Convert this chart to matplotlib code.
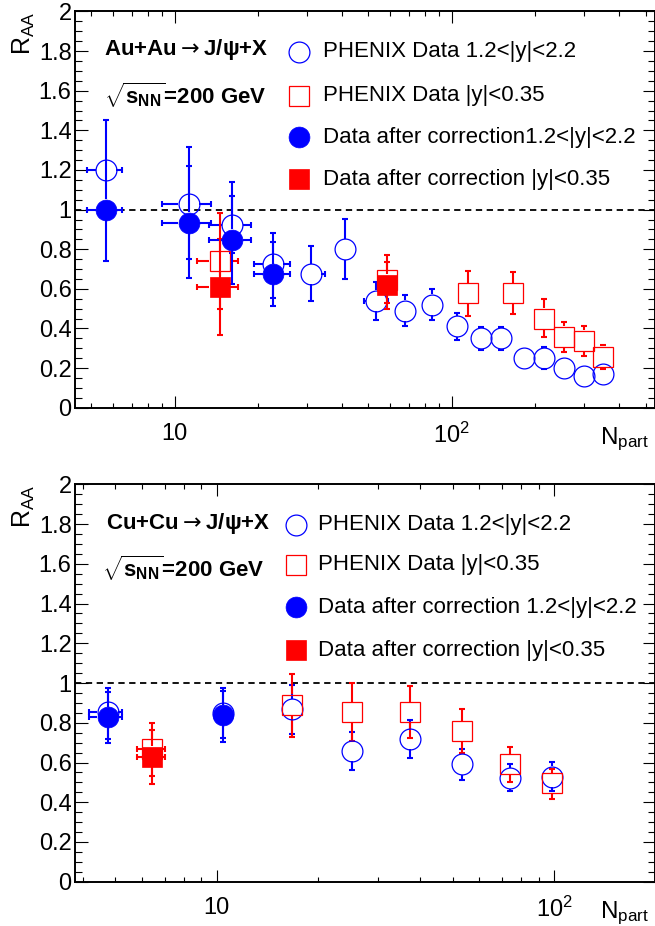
import numpy as np
import matplotlib
matplotlib.use("Agg")
from matplotlib import pyplot as plt
from matplotlib.ticker import LogLocator, MultipleLocator, NullFormatter

plt.rcParams['font.family'] = ['Liberation Sans', 'DejaVu Sans']
plt.rcParams['mathtext.fontset'] = 'custom'
plt.rcParams['mathtext.rm'] = 'Liberation Sans'
plt.rcParams['mathtext.it'] = 'Liberation Sans:italic'
plt.rcParams['mathtext.bf'] = 'Liberation Sans:bold'

nan = np.nan

# ---- Au+Au, PHENIX 1.2<|y|<2.2 (open circles)
au_fwd_npart = [5.64, 11.2, 16.1, 22.6, 30.9, 41.1, 53.2, 67.6, 84.7, 104, 127, 151, 182, 215, 254, 300, 350]
au_fwd_raa = [1.20, 1.03, 0.92, 0.725, 0.675, 0.80, 0.54, 0.49, 0.52, 0.41, 0.35, 0.35, 0.25, 0.25, 0.20, 0.158, 0.17]
au_fwd_lo = [1.15, 0.75, 0.78, 0.556, 0.537, 0.651, 0.443, 0.412, 0.443, 0.342, 0.29, 0.29, 0.21, 0.193, 0.16, 0.12, 0.13]
au_fwd_hi = [1.25, 1.22, 1.07, 0.838, 0.818, 0.951, 0.636, 0.571, 0.60, 0.478, 0.405, 0.405, 0.29, 0.305, 0.24, 0.19, 0.21]
au_fwd_xlo = [4.82, 9.0, 13.3, 19.3, 28.4, 37.9, 48.2, nan, nan, nan, nan, nan, nan, nan, nan, nan, nan]
au_fwd_xhi = [6.44, 13.5, 18.8, 26.0, 34.8, 44.7, 58.7, nan, nan, nan, nan, nan, nan, nan, nan, nan, nan]

# ---- Au+Au, PHENIX |y|<0.35 (open squares)
au_mid_npart = [14.5, 58.4, 114, 166, 215, 254, 300, 350]
au_mid_raa = [0.739, 0.645, 0.577, 0.577, 0.449, 0.359, 0.338, 0.258]
au_mid_lo = [0.498, 0.527, 0.465, 0.471, 0.355, 0.279, 0.263, 0.195]
au_mid_hi = [0.852, 0.737, 0.692, 0.683, 0.547, 0.434, 0.414, 0.318]
au_mid_xlo = [12.0, nan, nan, nan, nan, nan, nan, nan]
au_mid_xhi = [16.9, nan, nan, nan, nan, nan, nan, nan]

# ---- Au+Au, corrected 1.2<|y|<2.2 (filled circles)
au_fwd_c_npart = [5.64, 11.2, 16.1, 22.6]
au_fwd_c_raa = [1.0, 0.934, 0.848, 0.675]
au_fwd_c_lo = [0.742, 0.653, 0.625, 0.512]
au_fwd_c_hi = [1.45, 1.315, 1.138, 0.88]
au_fwd_c_xlo = [4.82, 9.0, 13.3, 19.3]
au_fwd_c_xhi = [6.44, 13.5, 18.8, 26.0]

# ---- Au+Au, corrected |y|<0.35 (filled squares)
au_mid_c_npart = [14.5, 58.4]
au_mid_c_raa = [0.611, 0.62]
au_mid_c_lo = [0.369, 0.497]
au_mid_c_hi = [0.981, 0.77]
au_mid_c_xlo = [12.0, nan]
au_mid_c_xhi = [16.9, nan]

# ---- Cu+Cu, PHENIX 1.2<|y|<2.2
cu_fwd_npart = [4.75, 10.46, 16.76, 25.2, 37.4, 53.2, 74.1, 98.6]
cu_fwd_raa = [0.853, 0.85, 0.868, 0.658, 0.718, 0.592, 0.52, 0.528]
cu_fwd_lo = [0.72, 0.725, 0.742, 0.562, 0.624, 0.513, 0.455, 0.458]
cu_fwd_hi = [0.955, 0.958, 0.99, 0.753, 0.815, 0.67, 0.591, 0.601]
cu_fwd_xlo = [4.19, nan, nan, nan, nan, nan, nan, nan]
cu_fwd_xhi = [5.25, nan, nan, nan, nan, nan, nan, nan]

# ---- Cu+Cu, PHENIX |y|<0.35
cu_mid_npart = [6.43, 16.76, 25.2, 37.4, 53.2, 74.1, 98.6]
cu_mid_raa = [0.669, 0.891, 0.854, 0.854, 0.758, 0.591, 0.495]
cu_mid_lo = [0.533, 0.728, 0.71, 0.725, 0.646, 0.503, 0.416]
cu_mid_hi = [0.765, 1.047, 1.0, 0.986, 0.869, 0.678, 0.567]
cu_mid_xlo = [5.82, nan, nan, nan, nan, nan, nan]
cu_mid_xhi = [7.01, nan, nan, nan, nan, nan, nan]

# ---- Cu+Cu, corrected
cu_fwd_c_npart = [4.75, 10.46]
cu_fwd_c_raa = [0.827, 0.839]
cu_fwd_c_lo = [0.70, 0.703]
cu_fwd_c_hi = [0.975, 0.975]
cu_fwd_c_xlo = [4.19, nan]
cu_fwd_c_xhi = [5.25, nan]

cu_mid_c_npart = [6.43]
cu_mid_c_raa = [0.629]
cu_mid_c_lo = [0.493]
cu_mid_c_hi = [0.799]
cu_mid_c_xlo = [5.82]
cu_mid_c_xhi = [7.01]

y_ticks = [0, 0.2, 0.4, 0.6, 0.8, 1.0, 1.2, 1.4, 1.6, 1.8, 2.0]
y_tick_labels = ['0', '0.2', '0.4', '0.6', '0.8', '1', '1.2', '1.4', '1.6', '1.8', '2']

legend_fwd = 'PHENIX Data 1.2<|y|<2.2'
legend_mid = 'PHENIX Data |y|<0.35'

BLUE = (0, 0, 1)
RED = (1, 0, 0)
MS = 15      # marker size, points
ELW = 1.5    # error bar width
CAP = 5


def draw_points(ax, x, y, lo, hi, xlo, xhi, color, marker, filled, z):
    # ROOT style: error bars only drawn outside of the marker
    fig = ax.figure
    bb = ax.get_window_extent()
    y0, y1 = ax.get_ylim()
    x0, x1 = ax.get_xlim()
    r = MS * fig.dpi / 72 / 2
    dy = r * (y1 - y0) / bb.height
    dl = r * (np.log10(x1) - np.log10(x0)) / bb.width
    kw = dict(color=color, lw=ELW, zorder=z, solid_capstyle='butt')
    for xi, yi, l, h, xl, xh in zip(x, y, lo, hi, xlo, xhi):
        if h > yi + dy:
            ax.plot([xi, xi], [yi + dy, h], **kw)
            ax.plot([xi], [h], marker='_', ms=CAP, mew=ELW, color=color, zorder=z)
        if l < yi - dy:
            ax.plot([xi, xi], [yi - dy, l], **kw)
            ax.plot([xi], [l], marker='_', ms=CAP, mew=ELW, color=color, zorder=z)
        if not np.isnan(xl) and xl < xi * 10 ** -dl:
            ax.plot([xi * 10 ** -dl, xl], [yi, yi], **kw)
            ax.plot([xl], [yi], marker='|', ms=CAP, mew=ELW, color=color, zorder=z)
        if not np.isnan(xh) and xh > xi * 10 ** dl:
            ax.plot([xi * 10 ** dl, xh], [yi, yi], **kw)
            ax.plot([xh], [yi], marker='|', ms=CAP, mew=ELW, color=color, zorder=z)
    ax.plot(x, y, ls='none', marker=marker, ms=MS if marker == 'o' else MS * 0.97,
            mfc=color if filled else 'none', mec=color, mew=0.9 if not filled else 0.5,
            zorder=z + 1)


def setup_axes(ax, xmin, xmax):
    ax.set_xscale('log')
    ax.set_xlim(xmin, xmax)
    ax.set_ylim(0, 2)
    ax.set_xticks([10, 100], labels=['10', r'10$^{2}$'])
    ax.xaxis.set_minor_locator(LogLocator(base=10, subs=np.arange(2, 10)))
    ax.xaxis.set_minor_formatter(NullFormatter())
    ax.set_yticks(y_ticks, labels=y_tick_labels)
    ax.yaxis.set_minor_locator(MultipleLocator(0.05))
    ax.tick_params(which='both', direction='in', top=True, right=True, width=0.8)
    ax.tick_params(axis='x', which='major', length=8.5, labelsize=17, pad=11)
    ax.tick_params(axis='x', which='minor', length=3.8)
    ax.tick_params(axis='y', which='major', length=9, labelsize=17, pad=2.5)
    ax.tick_params(axis='y', which='minor', length=5)
    for s in ax.spines.values():
        s.set_linewidth(1.4)
    ax.axhline(1.0, color='black', ls=(0, (3.5, 2.5)), lw=1.3, zorder=1)
    ax.text(-0.088, 1.0, r'R$_{\mathrm{AA}}$', transform=ax.transAxes, rotation=90,
            ha='center', va='top', fontsize=18)
    ax.text(0.906, -0.045, r'N$_{\mathrm{part}}$', transform=ax.transAxes,
            ha='left', va='top', fontsize=17.5)


def draw_legend(ax, xm, xt, rows, labels, title, title_x, title_y, sqrt_x, sqrt_y):
    styles = [(BLUE, 'o', False), (RED, 's', False), (BLUE, 'o', True), (RED, 's', True)]
    for (c, m, f), yy, lab in zip(styles, rows, labels):
        ax.plot([xm], [yy], transform=ax.transAxes, ls='none', marker=m, ms=MS,
                mfc=c if f else 'none', mec=c, mew=0.9 if not f else 0.5, clip_on=False)
        ax.text(xt, yy, lab, transform=ax.transAxes, ha='left', va='center', fontsize=16)
    ax.text(title_x, title_y, title, transform=ax.transAxes, ha='left', va='center',
            fontsize=16, fontweight='bold', math_fontfamily='dejavusans')
    ax.text(sqrt_x, sqrt_y, r'$\sqrt{\mathbf{s}_{\mathbf{NN}}}$=200 GeV', transform=ax.transAxes,
            ha='left', va='center', fontsize=16, fontweight='bold')


fig = plt.figure(figsize=(6.55, 9.26), dpi=100)
ax1 = fig.add_axes([0.1145, 0.5597, 0.8855, 0.4279])
ax2 = fig.add_axes([0.1145, 0.0478, 0.8855, 0.4292])

setup_axes(ax1, 4.36, 541)
setup_axes(ax2, 3.80, 199)

draw_points(ax1, au_fwd_npart, au_fwd_raa, au_fwd_lo, au_fwd_hi, au_fwd_xlo, au_fwd_xhi, BLUE, 'o', False, 3)
draw_points(ax1, au_mid_npart, au_mid_raa, au_mid_lo, au_mid_hi, au_mid_xlo, au_mid_xhi, RED, 's', False, 3)
draw_points(ax1, au_fwd_c_npart, au_fwd_c_raa, au_fwd_c_lo, au_fwd_c_hi, au_fwd_c_xlo, au_fwd_c_xhi, BLUE, 'o', True, 5)
draw_points(ax1, au_mid_c_npart, au_mid_c_raa, au_mid_c_lo, au_mid_c_hi, au_mid_c_xlo, au_mid_c_xhi, RED, 's', True, 5)

draw_points(ax2, cu_fwd_npart, cu_fwd_raa, cu_fwd_lo, cu_fwd_hi, cu_fwd_xlo, cu_fwd_xhi, BLUE, 'o', False, 3)
draw_points(ax2, cu_mid_npart, cu_mid_raa, cu_mid_lo, cu_mid_hi, cu_mid_xlo, cu_mid_xhi, RED, 's', False, 3)
draw_points(ax2, cu_fwd_c_npart, cu_fwd_c_raa, cu_fwd_c_lo, cu_fwd_c_hi, cu_fwd_c_xlo, cu_fwd_c_xhi, BLUE, 'o', True, 5)
draw_points(ax2, cu_mid_c_npart, cu_mid_c_raa, cu_mid_c_lo, cu_mid_c_hi, cu_mid_c_xlo, cu_mid_c_xhi, RED, 's', True, 5)

draw_legend(ax1, 0.386, 0.427, [0.8985, 0.787, 0.683, 0.577],
            [legend_fwd, legend_mid, 'Data after correction1.2<|y|<2.2', 'Data after correction |y|<0.35'],
            'Au+Au$\\rightarrow$J/\u03c8+X', 0.05, 0.903, 0.05, 0.789)
draw_legend(ax2, 0.381, 0.4195, [0.8976, 0.797, 0.691, 0.583],
            [legend_fwd, legend_mid, 'Data after correction 1.2<|y|<2.2', 'Data after correction |y|<0.35'],
            'Cu+Cu$\\rightarrow$J/\u03c8+X', 0.054, 0.9026, 0.047, 0.789)

fig.savefig('out.png', dpi=100)
